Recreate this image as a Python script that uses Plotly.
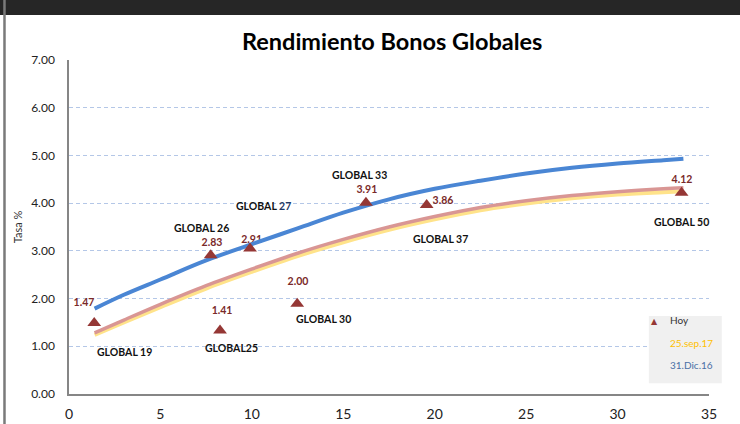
import plotly.graph_objects as go

# ---- Data ----
# "Hoy" markers (years to maturity, yield %)
bond_names = ["GLOBAL 19", "GLOBAL 26", "GLOBAL25", "GLOBAL 27", "GLOBAL 30", "GLOBAL 33", "GLOBAL 37", "GLOBAL 50"]
hoy_x = [1.38, 7.75, 8.26, 9.90, 12.48, 16.24, 19.56, 33.50]
hoy_y = [1.49, 2.91, 1.33, 3.05, 1.89, 4.01, 3.96, 4.22]
hoy_labels = ["1.47", "2.83", "1.41", "2.91", "2.00", "3.91", "3.86", "4.12"]

# fitted curves
curve_x = [1.4, 3, 5, 7.5, 10, 12.5, 15, 17.5, 20, 22.5, 25, 27.5, 30, 32.5, 33.6]
dic16_y = [1.79, 2.08, 2.40, 2.80, 3.14, 3.47, 3.80, 4.08, 4.30, 4.47, 4.62, 4.74, 4.83, 4.90, 4.93]
sep17_pink_y = [1.28, 1.55, 1.88, 2.27, 2.62, 2.95, 3.24, 3.50, 3.72, 3.91, 4.05, 4.16, 4.24, 4.30, 4.32]
sep17_y = [1.24, 1.50, 1.82, 2.21, 2.56, 2.89, 3.18, 3.44, 3.66, 3.85, 3.99, 4.10, 4.18, 4.23, 4.25]

y_ticks = [0, 1, 2, 3, 4, 5, 6, 7]
x_ticks = [0, 5, 10, 15, 20, 25, 30, 35]

# label placement (data units)
name_pos = {
    "GLOBAL 19": (3.01, 0.88), "GLOBAL 26": (7.22, 3.48), "GLOBAL25": (8.91, 0.96),
    "GLOBAL 27": (10.61, 3.95), "GLOBAL 30": (13.94, 1.57), "GLOBAL 33": (15.91, 4.59),
    "GLOBAL 37": (20.34, 3.25), "GLOBAL 50": (33.52, 3.61),
}
val_pos_x = [0.82, 7.82, 8.37, 9.99, 12.52, 16.29, 20.45, 33.52]
val_pos_y = [1.89, 3.16, 1.74, 3.23, 2.33, 4.26, 4.03, 4.47]

FONT = "Lato"
DARKRED = "#953735"

fig = go.Figure()

# value labels drawn first so lines pass over them (as in the original)
fig.add_trace(go.Scatter(
    x=val_pos_x, y=val_pos_y, mode="text", text=hoy_labels,
    textfont=dict(family=FONT, size=10.5, color="#7A2A29", weight="bold"),
    hoverinfo="skip", showlegend=False))

fig.add_trace(go.Scatter(
    x=curve_x, y=sep17_y, mode="lines", line=dict(color="#FFE38A", width=4, shape="spline"),
    name="25.sep.17", showlegend=False))
fig.add_trace(go.Scatter(
    x=curve_x, y=sep17_pink_y, mode="lines", line=dict(color="#D99694", width=3.5, shape="spline"),
    name="25.sep.17b", showlegend=False))
fig.add_trace(go.Scatter(
    x=curve_x, y=dic16_y, mode="lines", line=dict(color="#4A86D4", width=4, shape="spline"),
    name="31.Dic.16", showlegend=False))
fig.add_trace(go.Scatter(
    x=hoy_x, y=hoy_y, mode="markers",
    marker=dict(symbol="triangle-up", size=12, color=DARKRED),
    name="Hoy", showlegend=False))

annotations = []
for nm in bond_names:
    xx, yy = name_pos[nm]
    txt = nm
    if nm == "GLOBAL 27":
        txt = "GLOBAL <span style='color:#1F3864'>27</span>"
    annotations.append(dict(x=xx, y=yy, xref="x", yref="y", text=txt, showarrow=False,
                            font=dict(family=FONT, size=10.5, color="#111111", weight="bold")))

# legend (manual, text-only like the original)
annotations += [
    dict(x=0.923, y=0.197, xref="paper", yref="paper", text="▲", showarrow=False,
         font=dict(family="DejaVu Sans", size=8, color=DARKRED)),
    dict(x=0.936, y=0.197, xref="paper", yref="paper", text="Hoy", showarrow=False, xanchor="left",
         font=dict(family=FONT, size=10, color="#333333")),
    dict(x=0.936, y=0.130, xref="paper", yref="paper", text="25.sep.17", showarrow=False, xanchor="left",
         font=dict(family=FONT, size=10, color="#FFC000")),
    dict(x=0.936, y=0.062, xref="paper", yref="paper", text="31.Dic.16", showarrow=False, xanchor="left",
         font=dict(family=FONT, size=10, color="#4A6FA5")),
]

shapes = [
    dict(type="rect", xref="paper", yref="paper", x0=0.906, x1=1.020, y0=0.032, y1=0.2335,
         fillcolor="#F0F0F0", line=dict(width=0), layer="above"),
    # dark top band and left border of the screenshot frame
    dict(type="rect", xref="paper", yref="paper", x0=-0.12, x1=1.06, y0=1.135, y1=1.19,
         fillcolor="#262626", line=dict(width=0)),
    dict(type="line", xref="paper", yref="paper", x0=-0.1008, x1=-0.1008, y0=-0.1, y1=1.19,
         line=dict(color="#7A7A7A", width=2.5)),
]

fig.update_layout(
    width=740, height=424,
    margin=dict(l=69, r=31, t=60, b=30, autoexpand=False),
    paper_bgcolor="white", plot_bgcolor="white",
    title=dict(text="<b>Rendimiento Bonos Globales</b>", x=0.53, xanchor="center",
               y=0.901, yanchor="middle", font=dict(family=FONT, size=23.5, color="#000000")),
    annotations=annotations, shapes=shapes,
    showlegend=False,
)
fig.update_xaxes(range=[0, 35], tickvals=x_ticks, showgrid=False, zeroline=False,
                 showline=True, linecolor="#868686", linewidth=1.5, automargin=False,
                 tickfont=dict(family=FONT, size=14, color="#222222"), ticks="", ticklabelstandoff=6)
fig.update_yaxes(range=[0, 7], tickvals=y_ticks, tickformat=".2f", showgrid=True,
                 gridcolor="#B4C7E7", griddash="4px,3px", gridwidth=1, zeroline=False,
                 showline=True, linecolor="#868686", linewidth=1.5, automargin=False,
                 tickfont=dict(family=FONT, size=12, color="#222222"), ticks="", ticklabelstandoff=10,
                 title=dict(text="Tasa %", font=dict(family=FONT, size=11, color="#333333"), standoff=6))

fig.write_html("out.html", config={"displayModeBar": False},
               post_script="document.body.style.margin='0';document.body.style.overflow='hidden';")
